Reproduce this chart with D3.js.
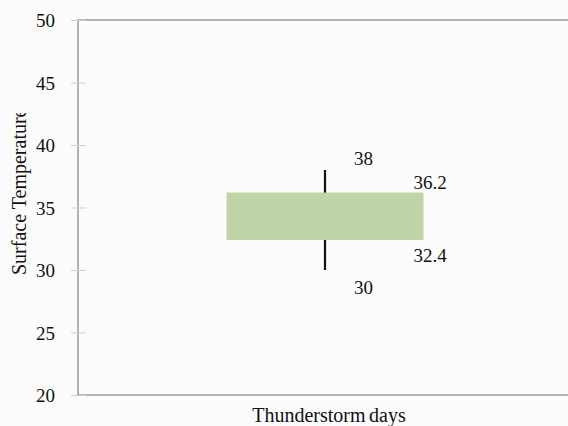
<!DOCTYPE html>
<html><head><meta charset="utf-8">
<script src="https://cdn.jsdelivr.net/npm/d3@7"></script>
<style>html,body{margin:0;padding:0;background:#fbfbfb;}svg{display:block;}</style>
</head><body>
<svg id="c" width="568" height="426"></svg>
<script>
const categories = ["Thunderstorm days"];
const minValues = [30];
const q1Values = [32.4];
const q3Values = [36.2];
const maxValues = [38];
const yTicks = [20, 25, 30, 35, 40, 45, 50];
const yTitle = "Surface Temperature";

const svg = d3.select("#c");
const font = "'Liberation Serif', 'Times New Roman', serif";
const L = 78, R = 572, T = 20, B = 395;

const x = d3.scaleBand().domain(categories).range([L, R]).padding(0.43);
const y = d3.scaleLinear().domain([20, 50]).range([B, T]);

// plot frame
svg.append("rect").attr("x", L).attr("y", T).attr("width", R - L).attr("height", B - T)
  .attr("fill", "#fcfcfc").attr("stroke", "#8c8c8c").attr("stroke-width", 1.3);

// y axis
const ya = svg.append("g").attr("transform", `translate(${L},0)`)
  .call(d3.axisLeft(y).tickValues(yTicks).tickSize(7).tickPadding(16));
ya.select(".domain").remove();
ya.selectAll(".tick line").attr("x2", 8).attr("x1", -7).attr("stroke", "#cfcfcf");
ya.selectAll(".tick text").style("font-family", font).style("font-size", "19px").attr("fill", "#111").attr("dy", "0.36em");

// y title (clipped at top like the reference)
svg.append("clipPath").attr("id", "yt").append("rect").attr("x", 0).attr("y", 113).attr("width", 40).attr("height", 300);
const yt = svg.append("g").attr("clip-path", "url(#yt)")
  .append("text")
  .attr("text-anchor", "start").style("font-family", font).style("font-size", "20px").attr("fill", "#111")
  .text(yTitle);
yt.attr("transform", `translate(25.5,275) rotate(-90)`);

// x title
svg.append("text").attr("x", x(categories[0]) + x.bandwidth() / 2 + 4).attr("y", 422)
  .attr("text-anchor", "middle").style("font-family", font).style("font-size", "20px").attr("fill", "#111")
  .style("word-spacing", "-1.5px")
  .text(categories[0]);

categories.forEach((c, i) => {
  const cx = x(c) + x.bandwidth() / 2;
  svg.append("line").attr("x1", cx).attr("x2", cx).attr("y1", y(maxValues[i])).attr("y2", y(minValues[i]))
    .attr("stroke", "#111").attr("stroke-width", 2.2);
  svg.append("rect").attr("x", x(c)).attr("width", x.bandwidth())
    .attr("y", y(q3Values[i])).attr("height", y(q1Values[i]) - y(q3Values[i]))
    .attr("fill", "#c1d4a8");
  const lab = (t, xx, yy) => svg.append("text").attr("x", xx).attr("y", yy)
    .style("font-family", font).style("font-size", "19px").attr("fill", "#111").text(t);
  lab(maxValues[i], cx + 29, y(maxValues[i]) - 5);
  lab(q3Values[i], x(c) + x.bandwidth() - 10, y(q3Values[i]) - 4);
  lab(q1Values[i], x(c) + x.bandwidth() - 10, y(q1Values[i]) + 22);
  lab(minValues[i], cx + 29, y(minValues[i]) + 24);
});
</script>
</body></html>
